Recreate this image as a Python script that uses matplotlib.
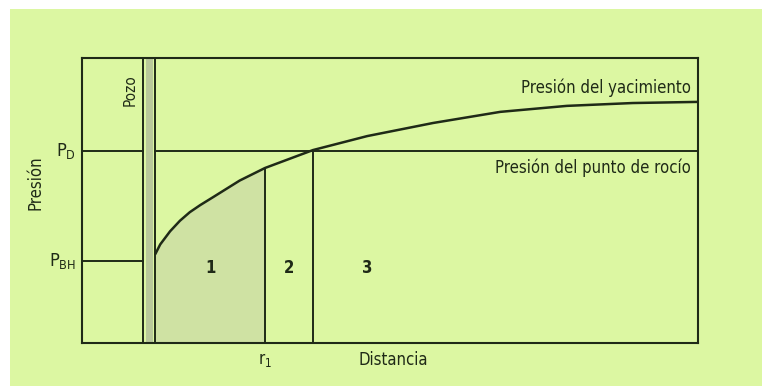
import matplotlib.pyplot as plt
from matplotlib.patches import Rectangle

# Colours
bg_green = '#dcf7a2'
ink = '#1f2a17'
shade = '#cfe2a3'
well_fill = '#b9c99a'

# Data (distance 0-100, pressure 0-100 in arbitrary units)
distance = [11.9, 12.7, 14.3, 15.9, 17.5, 19.2, 21.3, 25.6, 29.7, 37.5, 46.3, 57.0, 67.9, 78.7, 89.4, 100.0]
pressure = [31.2, 34.6, 39.2, 42.9, 45.9, 48.4, 51.2, 57.0, 61.4, 67.7, 72.6, 77.2, 81.1, 83.2, 84.2, 84.6]
p_dew = 67.3
p_bh = 28.9
well_left = 9.9
well_right = 11.9
r1 = 29.7
r_dew = 37.5
zones = ['1', '2', '3']
zone_x = [20.8, 33.6, 46.3]

plt.rcParams['font.family'] = ['DejaVu Sans']
plt.rcParams['font.stretch'] = 'condensed'
plt.rcParams['mathtext.default'] = 'regular'

fig = plt.figure(figsize=(7.62, 3.86), dpi=100)
fig.patch.set_facecolor('white')
fig.patches.append(Rectangle((10/762, 0), 752/762, 377/386, transform=fig.transFigure,
                             facecolor=bg_green, edgecolor='none', zorder=-10))

ax = fig.add_axes([82/762, 43/386, 616/762, 285/386])
ax.set_zorder(1)
ax.set_facecolor(bg_green)
ax.set_xlim(0, 100)
ax.set_ylim(0, 100)
ax.set_xticks([])
ax.set_yticks([])
for s in ax.spines.values():
    s.set_color(ink)
    s.set_linewidth(1.5)

# shaded zone 1 under the curve
i1 = distance.index(r1)
ax.fill_between(distance[:i1 + 1], 0, pressure[:i1 + 1], color=shade, lw=0, zorder=1)

# well
ax.axvspan(well_left + 0.5, well_right - 0.4, color=well_fill, lw=0, zorder=1)
ax.axvline(well_left, color=ink, lw=1.4, zorder=3)
ax.axvline(well_right, color=ink, lw=1.4, zorder=3)

# pressure lines
ax.plot([0, well_left], [p_bh, p_bh], color=ink, lw=1.4, zorder=3)
ax.plot([0, well_left], [p_dew, p_dew], color=ink, lw=1.4, zorder=3)
ax.plot([well_right, 100], [p_dew, p_dew], color=ink, lw=1.4, zorder=3)

# reservoir pressure curve
ax.plot(distance, pressure, color=ink, lw=1.8, zorder=4, solid_capstyle='round',
        solid_joinstyle='round')

# zone boundaries
ax.plot([r1, r1], [0, pressure[i1]], color=ink, lw=1.4, zorder=3)
ax.plot([r_dew, r_dew], [0, p_dew], color=ink, lw=1.4, zorder=3)

for lab, x in zip(zones, zone_x):
    ax.text(x, 26.3, lab, ha='center', va='center', fontsize=12, fontweight='bold', color=ink)

ax.text(98.9, 89.5, 'Presión del yacimiento', ha='right', va='center', fontsize=12, color=ink)
ax.text(98.9, 61.4, 'Presión del punto de rocío', ha='right', va='center', fontsize=12, color=ink)
ax.text(7.8, 88.8, 'Pozo', rotation=90, ha='center', va='center', fontsize=11, color=ink)

# outside labels
ax.text(-7.6, 56.1, 'Presión', rotation=90, ha='center', va='center', fontsize=12,
        color=ink, clip_on=False)
ax.text(-1.0, p_dew, r'P$_D$', ha='right', va='center', fontsize=13,
        color=ink, clip_on=False)
ax.text(-1.0, p_bh, r'P$_{BH}$', ha='right', va='center', fontsize=13,
        color=ink, clip_on=False)
ax.text(r1, -6.0, r'r$_1$', ha='center', va='center', fontsize=12,
        color=ink, clip_on=False)
ax.text(50.5, -6.0, 'Distancia', ha='center', va='center', fontsize=12,
        color=ink, clip_on=False)

fig.savefig('out.png', dpi=100, facecolor=fig.get_facecolor())
